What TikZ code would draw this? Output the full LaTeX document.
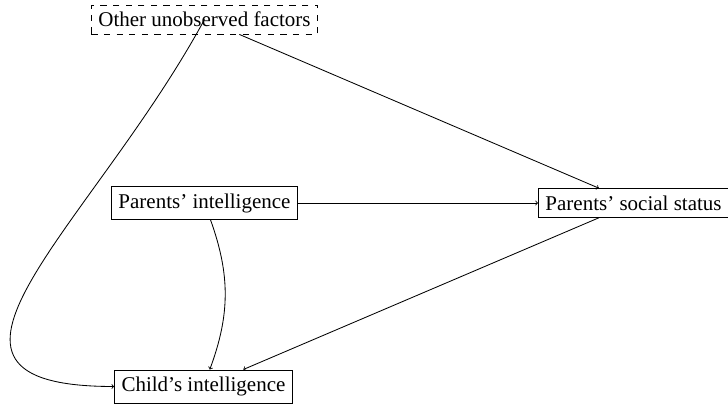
\documentclass[tikz,border=0pt]{standalone}
\usepackage{fontspec}
\setmainfont{Liberation Serif}
\begin{document}
\begin{tikzpicture}[x=1pt,y=1pt,line width=0.84pt,>=to,
  box/.style={draw,rectangle,inner sep=7pt,font=\fontsize{21}{25}\selectfont},
  dashbox/.style={box,dash pattern=on 6.3pt off 6.3pt},
  arr/.style={->,line width=0.84pt}]
\useasboundingbox (0,0) rectangle (728,405);
\node[dashbox] (other) at (204.5,385.5) {Other unobserved factors};
\node[box] (pi) at (204.5,202) {Parents’ intelligence};
\node[box] (ps) at (633.5,202) {Parents’ social status};
\node[box] (child) at (203.5,18.5) {Child’s intelligence};
\draw[arr] (other) -- (ps);
\draw[arr] (pi) -- (ps);
\draw[arr] (ps) -- (child);
\draw[arr] (pi) to[bend left=20] (child);
\draw[arr] (other.center) .. controls +(-114.5,-210.5) and +(-229,0) .. (child.west);
\end{tikzpicture}
\end{document}
